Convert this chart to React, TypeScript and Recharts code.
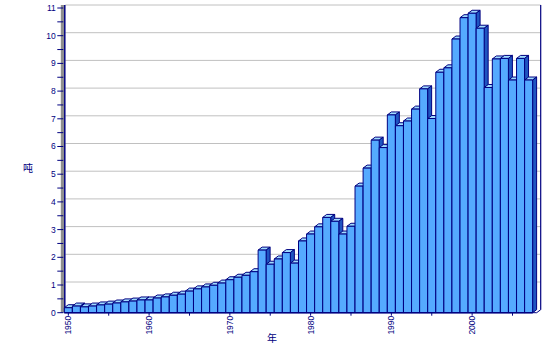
import { Bar, BarChart, CartesianGrid, Customized, XAxis, YAxis } from "recharts";

const YEARS = [
  1950, 1951, 1952, 1953, 1954, 1955, 1956, 1957, 1958, 1959,
  1960, 1961, 1962, 1963, 1964, 1965, 1966, 1967, 1968, 1969,
  1970, 1971, 1972, 1973, 1974, 1975, 1976, 1977, 1978, 1979,
  1980, 1981, 1982, 1983, 1984, 1985, 1986, 1987, 1988, 1989,
  1990, 1991, 1992, 1993, 1994, 1995, 1996, 1997, 1998, 1999,
  2000, 2001, 2002, 2003, 2004, 2005, 2006, 2007,
];

// tonnes per year
const TONNES = [
  0.18, 0.24, 0.21, 0.24, 0.28, 0.31, 0.35, 0.39, 0.42, 0.46,
  0.46, 0.53, 0.57, 0.63, 0.67, 0.78, 0.86, 0.93, 0.99, 1.07,
  1.19, 1.28, 1.35, 1.48, 2.26, 1.75, 1.94, 2.17, 1.79, 2.59,
  2.84, 3.1, 3.44, 3.3, 2.84, 3.12, 4.57, 5.22, 6.23, 5.96,
  7.14, 6.75, 6.92, 7.35, 8.08, 7.01, 8.68, 8.84, 9.88, 10.65,
  10.81, 10.27, 8.13, 9.16, 9.18, 8.4, 9.18, 8.4,
];

const Y_TICKS = [0, 0.5, 1, 1.5, 2, 2.5, 3, 3.5, 4, 4.5, 5, 5.5, 6, 6.5, 7, 7.5, 8, 8.5, 9, 9.5, 10, 10.5, 11];
const GRID_VALUES = [1, 2, 3, 4, 5, 6, 7, 8, 9, 10, 11];
const X_TICKS = [1950, 1955, 1960, 1965, 1970, 1975, 1980, 1985, 1990, 1995, 2000, 2005];

const NAVY = "#000080";
const FRONT = "#55AAFF";
const TOP = "#A0DCFF";
const SIDE = "#1F55C0";
const FONT = "'Liberation Sans', Arial, sans-serif";

// 3D depth of the bars / walls
const DX = 4;
const DY = 3;

const W = 547;
const H = 360;
const MARGIN = { top: 8, right: 14.3, bottom: 7.3, left: 14.3 };
const Y_AXIS_W = 50;
const X_AXIS_H = 40;
const PLOT_LEFT = MARGIN.left + Y_AXIS_W;
const PLOT_RIGHT = W - MARGIN.right;
const PLOT_TOP = MARGIN.top;
const PLOT_BOTTOM = H - MARGIN.bottom - X_AXIS_H;

const data = YEARS.map((year, i) => ({ year, value: TONNES[i] }));

function Bar3D(props: any) {
  const { x, y, width, height } = props;
  if (width == null || height == null) return null;
  const r = x + width;
  const b = y + height;
  return (
    <g stroke={NAVY} strokeWidth={1} strokeLinejoin="round">
      <polygon points={`${x},${y} ${x + DX},${y - DY} ${r + DX},${y - DY} ${r},${y}`} fill={TOP} />
      <polygon points={`${r},${y} ${r + DX},${y - DY} ${r + DX},${b - DY} ${r},${b}`} fill={SIDE} />
      <rect x={x} y={y} width={width} height={height} fill={FRONT} />
    </g>
  );
}

function YTick(props: any) {
  const { y, payload } = props;
  const v = payload.value as number;
  const major = Number.isInteger(v);
  return (
    <g>
      <line x1={PLOT_LEFT - 7} x2={PLOT_LEFT - 1} y1={y} y2={y} stroke={NAVY} />
      {major && (
        <text x={PLOT_LEFT - 8.5} y={y} dy="0.35em" textAnchor="end" fontSize={8.5} fontFamily={FONT} fill={NAVY}>
          {v}
        </text>
      )}
    </g>
  );
}

function XTick(props: any) {
  const { x, payload } = props;
  const yr = payload.value as number;
  return (
    <g>
      <line x1={x} x2={x} y1={PLOT_BOTTOM} y2={PLOT_BOTTOM + 3} stroke={NAVY} />
      {yr % 10 === 0 && (
        <text
          transform={`translate(${x},${PLOT_BOTTOM + 3}) rotate(-90)`}
          dy="0.35em"
          textAnchor="end"
          fontSize={8.5}
          fontFamily={FONT}
          fill={NAVY}
        >
          {yr}
        </text>
      )}
    </g>
  );
}

function Walls() {
  return (
    <g>
      {/* left wall */}
      <rect x={PLOT_LEFT - 3.5} y={PLOT_TOP - DY} width={3.5} height={PLOT_BOTTOM - PLOT_TOP + DY} fill="#8f8f8f" />
      <line x1={PLOT_LEFT + 0.5} x2={PLOT_LEFT + 0.5} y1={PLOT_TOP - DY} y2={PLOT_BOTTOM} stroke={NAVY} strokeWidth={1.5} />
      {/* right edge */}
      <line x1={PLOT_RIGHT + 8} x2={PLOT_RIGHT + 8} y1={PLOT_TOP - DY} y2={PLOT_BOTTOM - DY} stroke={NAVY} strokeWidth={1.2} />
      <polyline
        points={`${PLOT_RIGHT},${PLOT_BOTTOM} ${PLOT_RIGHT + 4},${PLOT_BOTTOM} ${PLOT_RIGHT + 8},${PLOT_BOTTOM - DY}`}
        fill="none"
        stroke={NAVY}
      />
      <text x={28} y={168} dy="0.35em" textAnchor="middle" fontSize={10} fontFamily="'Noto Sans CJK SC', sans-serif" fill={NAVY}>
        吨
      </text>
      <text x={272} y={338} dy="0.35em" textAnchor="middle" fontSize={10} fontFamily="'Noto Sans CJK SC', sans-serif" fill={NAVY}>
        年
      </text>
    </g>
  );
}

function gridRows({ yAxis }: any) {
  return GRID_VALUES.map((v) =>
    yAxis && typeof yAxis.scale === "function"
      ? yAxis.scale(v)
      : PLOT_BOTTOM - (v / 11) * (PLOT_BOTTOM - PLOT_TOP),
  );
}

export default function App() {
  return (
    <div style={{ position: "absolute", left: 0, top: 0, width: W, height: H, background: "#fff" }}>
      <BarChart width={W} height={H} data={data} margin={MARGIN} barCategoryGap={0} barGap={0}>
        <CartesianGrid
          vertical={false}
          stroke="#c0c0c0"
          horizontalCoordinatesGenerator={gridRows}
          horizontal={(p: any) => (
            <line
              key={`g-${p.y1}`}
              x1={p.x1 + 1}
              x2={p.x2 + 8}
              y1={p.y1 - DY}
              y2={p.y2 - DY}
              stroke="#c0c0c0"
              strokeWidth={1}
            />
          )}
        />
        <XAxis
          dataKey="year"
          type="category"
          ticks={X_TICKS}
          interval={0}
          height={X_AXIS_H}
          tickLine={false}
          axisLine={{ stroke: NAVY, strokeWidth: 1.5 }}
          tick={<XTick />}
        />
        <YAxis
          domain={[0, 11]}
          ticks={Y_TICKS}
          interval={0}
          width={Y_AXIS_W}
          axisLine={false}
          tickLine={false}
          tick={<YTick />}
        />
        <Customized component={<Walls />} />
        <Bar dataKey="value" isAnimationActive={false} shape={<Bar3D />} />
      </BarChart>
    </div>
  );
}
